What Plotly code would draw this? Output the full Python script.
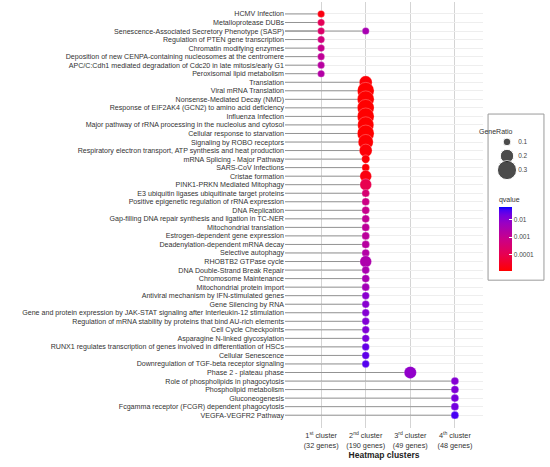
import numpy as np
import plotly.graph_objects as go

# Rows of the y axis, top to bottom
pathways = [
    "HCMV Infection", "Metalloprotease DUBs",
    "Senescence-Associated Secretory Phenotype (SASP)",
    "Regulation of PTEN gene transcription", "Chromatin modifying enzymes",
    "Deposition of new CENPA-containing nucleosomes at the centromere",
    "APC/C:Cdh1 mediated degradation of Cdc20 in late mitosis/early G1",
    "Peroxisomal lipid metabolism",
    "Translation", "Viral mRNA Translation", "Nonsense-Mediated Decay (NMD)",
    "Response of EIF2AK4 (GCN2) to amino acid deficiency", "Influenza Infection",
    "Major pathway of rRNA processing in the nucleolus and cytosol",
    "Cellular response to starvation", "Signaling by ROBO receptors",
    "Respiratory electron transport, ATP synthesis and heat production",
    "mRNA Splicing - Major Pathway", "SARS-CoV Infections", "Cristae formation",
    "PINK1-PRKN Mediated Mitophagy", "E3 ubiquitin ligases ubiquitinate target proteins",
    "Positive epigenetic regulation of rRNA expression", "DNA Replication",
    "Gap-filling DNA repair synthesis and ligation in TC-NER", "Mitochondrial translation",
    "Estrogen-dependent gene expression", "Deadenylation-dependent mRNA decay",
    "Selective autophagy", "RHOBTB2 GTPase cycle", "DNA Double-Strand Break Repair",
    "Chromosome Maintenance", "Mitochondrial protein import",
    "Antiviral mechanism by IFN-stimulated genes", "Gene Silencing by RNA",
    "Gene and protein expression by JAK-STAT signaling after Interleukin-12 stimulation",
    "Regulation of mRNA stability by proteins that bind AU-rich elements",
    "Cell Cycle Checkpoints", "Asparagine N-linked glycosylation",
    "RUNX1 regulates transcription of genes involved in differentiation of HSCs",
    "Cellular Senescence", "Downregulation of TGF-beta receptor signaling",
    "Phase 2 - plateau phase",
    "Role of phospholipids in phagocytosis", "Phospholipid metabolism", "Gluconeogenesis",
    "Fcgamma receptor (FCGR) dependent phagocytosis", "VEGFA-VEGFR2 Pathway",
]

# cluster of each row (SASP gets an extra point in cluster 2 below)
row_cluster = [1] * 8 + [2] * 34 + [3] + [4] * 5

gene_ratio = [
    0.09, 0.09, 0.09, 0.09, 0.09, 0.09, 0.09, 0.09,
    0.19, 0.26, 0.26, 0.26, 0.26, 0.25, 0.26, 0.23, 0.19, 0.11, 0.10, 0.17,
    0.17, 0.10, 0.10, 0.10, 0.10, 0.10, 0.10, 0.10, 0.10, 0.17, 0.10, 0.10,
    0.10, 0.095, 0.095, 0.095, 0.095, 0.095, 0.095, 0.095, 0.095, 0.095,
    0.18,
    0.10, 0.10, 0.10, 0.10, 0.10,
]

qvalue = [
    1.8e-5, 1.3e-4, 2.5e-4, 5e-4, 9e-4, 1.3e-3, 1.8e-3, 2.2e-3,
    1.4e-5, 1.2e-5, 1.2e-5, 1.2e-5, 1.2e-5, 1.2e-5, 1.2e-5, 1.3e-5, 1.4e-5, 1.4e-5, 1.4e-5, 1.8e-5,
    1.0e-4, 3.5e-4, 6.8e-4, 9e-4, 1.2e-3, 1.4e-3, 1.5e-3, 1.8e-3, 2.2e-3, 2.8e-3, 3.3e-3, 3.5e-3,
    4.3e-3, 9.8e-3, 0.0105, 0.0115, 0.0125, 0.013, 0.0147, 0.023, 0.025, 0.030,
    0.0083,
    0.0115, 0.013, 0.0155, 0.018, 0.035,
]

# extra point: SASP also enriched in the 2nd cluster
extra_pathway = [pathways[2]]
extra_cluster = [2]
extra_ratio = [0.09]
extra_q = [3.5e-3]

cluster_names = ["1<sup>st</sup> cluster", "2<sup>nd</sup> cluster",
                 "3<sup>rd</sup> cluster", "4<sup>th</sup> cluster"]
cluster_genes = [32, 190, 49, 48]

legend_ratios = [0.1, 0.2, 0.3]
q_ticks = [0.01, 0.001, 0.0001]

pt_path = pathways + extra_pathway
pt_cluster = row_cluster + extra_cluster
pt_ratio = np.array(gene_ratio + extra_ratio)
pt_logq = np.log10(np.array(qvalue + extra_q))


def dot_size(r):
    return 2 + 57 * np.asarray(r)


x_range = [0.19, 4.63]
cmin, cmax = -4.92, -1.28
scale = [[0, "#FF0000"], [0.25, "#E8004F"], [0.5, "#CA0089"], [0.75, "#9A00C3"],
         [0.875, "#7300E0"], [0.95, "#4B00F3"], [1, "#0000FF"]]

# lollipop stems from the left edge to the dot
lx, ly = [], []
for p, c in zip(pt_path, pt_cluster):
    lx += [x_range[0], c, None]
    ly += [p, p, None]

fig = go.Figure()
fig.add_trace(go.Scatter(x=lx, y=ly, mode="lines", line=dict(color="#939393", width=1),
                         hoverinfo="skip", showlegend=False))
fig.add_trace(go.Scatter(
    x=pt_cluster, y=pt_path, mode="markers", showlegend=False,
    marker=dict(size=dot_size(pt_ratio), color=pt_logq, cmin=cmin, cmax=cmax,
                colorscale=scale, opacity=1,
                line=dict(color="rgba(255,255,255,0.45)", width=0.6),
                colorbar=dict(title=dict(text="qvalue", side="top",
                                         font=dict(size=7, color="#333")),
                              tickvals=list(np.log10(q_ticks)),
                              ticktext=[str(v) for v in q_ticks],
                              tickfont=dict(size=6.5, color="#444"),
                              ticks="inside", ticklen=3, tickcolor="white",
                              thickness=13, len=77, lenmode="pixels",
                              x=0.823, xanchor="left", y=0.459, yanchor="middle",
                              xpad=0, ypad=0, outlinewidth=0)),
))

# size legend (GeneRatio)
fig.add_trace(go.Scatter(x=[0.3] * 3, y=legend_ratios, mode="markers",
                         marker=dict(size=dot_size(legend_ratios), color="black"),
                         xaxis="x2", yaxis="y2", showlegend=False, hoverinfo="skip"))
fig.add_trace(go.Scatter(x=[0.58] * 3, y=legend_ratios, mode="text",
                         text=[str(v) for v in legend_ratios], textposition="middle right",
                         textfont=dict(size=6.5, color="#444"),
                         xaxis="x2", yaxis="y2", showlegend=False, hoverinfo="skip"))

fig.update_layout(
    width=550, height=467,
    margin=dict(l=285, r=5, t=2, b=39),
    paper_bgcolor="white", plot_bgcolor="white",
    font=dict(family="Liberation Sans, Arial, sans-serif", color="#333"),
    xaxis=dict(domain=[0, 0.7615], range=x_range, tickvals=[1, 2, 3, 4],
               ticktext=[n + "<br>(%d genes)" % g for n, g in zip(cluster_names, cluster_genes)],
               tickfont=dict(size=7.3, color="#333"), showgrid=True, gridcolor="#d4d4d4",
               gridwidth=1, zeroline=False, showline=False, ticks="", automargin=False,
               ticklabelstandoff=2,
               title=dict(text="<b>Heatmap clusters</b>", font=dict(size=8.5, color="#222"),
                          standoff=3)),
    yaxis=dict(type="category", categoryorder="array", categoryarray=pathways,
               tickmode="array", tickvals=pathways, ticktext=pathways,
               range=[48.5, -1.4], tickfont=dict(size=7.1, color="#333"),
               showgrid=True, gridcolor="#eeeeee", gridwidth=1, zeroline=False,
               showline=False, ticks="", automargin=False),
    xaxis2=dict(domain=[0.8077, 0.9615], range=[0, 1], visible=False),
    yaxis2=dict(domain=[0.582, 0.688], range=[0.371, 0.05], visible=False, anchor="x2"),
    shapes=[dict(type="rect", xref="paper", yref="paper", x0=0.781, x1=0.996,
                 y0=0.347, y1=0.737, line=dict(color="#9a9a9a", width=1),
                 fillcolor="rgba(0,0,0,0)", layer="below")],
    annotations=[dict(text="GeneRatio", xref="paper", yref="paper", x=0.885, y=0.709,
                      showarrow=False, font=dict(size=7, color="#333"))],
)
fig.layout.xaxis2.anchor = "y2"

# the page body has a default 8px margin; drop it so the figure fills the window
fig.write_html("out.html", config={"displayModeBar": False},
               post_script="document.body.style.margin='0';")
